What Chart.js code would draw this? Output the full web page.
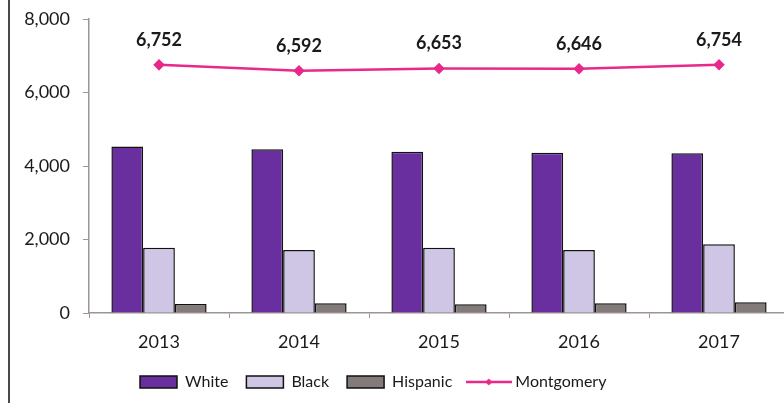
<!DOCTYPE html>
<html>
<head>
<meta charset="utf-8">
<script src="https://cdn.jsdelivr.net/npm/chart.js@4"></script>
<style>
  html, body { margin: 0; padding: 0; background: #fff; overflow: hidden; }
  #wrap { position: relative; width: 800px; height: 403px; }
  #frame { position: absolute; left: 8px; top: 0; width: 2px; height: 403px; background: #4a4a4a; }
</style>
</head>
<body>
<div id="wrap">
  <canvas id="chartRaca" width="800" height="403"></canvas>
  <div id="frame"></div>
</div>
<script>
// Categorias (anos) e valores
const years = ['2013', '2014', '2015', '2016', '2017'];
const white = [4530, 4455, 4390, 4360, 4345];
const black = [1775, 1715, 1775, 1715, 1870];
const hispanic = [245, 265, 240, 265, 290];
const montgomery = [6752, 6592, 6653, 6646, 6754];
const yTicks = [0, 2000, 4000, 6000, 8000];

const fontFamily = 'Lato, "Open Sans", sans-serif';
const textColor = '#1a1a1a';
const axisColor = '#9e9494';
const pink = '#e8288a';

// Pequeno desenho da linha com marcador para a legenda
const lineSymbol = document.createElement('canvas');
lineSymbol.width = 46;
lineSymbol.height = 12;
(function () {
    const c = lineSymbol.getContext('2d');
    c.strokeStyle = pink;
    c.lineWidth = 2.5;
    c.beginPath();
    c.moveTo(0, 6);
    c.lineTo(46, 6);
    c.stroke();
    c.fillStyle = pink;
    c.beginPath();
    c.moveTo(23, 2.5);
    c.lineTo(26.5, 6);
    c.lineTo(23, 9.5);
    c.lineTo(19.5, 6);
    c.closePath();
    c.fill();
})();

// Rótulos de valor acima da linha
const valueLabels = {
    id: 'valueLabels',
    afterDatasetsDraw(chart) {
        const ctx = chart.ctx;
        const meta = chart.getDatasetMeta(3);
        ctx.save();
        ctx.font = 'bold 18px ' + fontFamily;
        ctx.fillStyle = textColor;
        ctx.textAlign = 'center';
        ctx.textBaseline = 'middle';
        meta.data.forEach((pt, i) => {
            ctx.fillText(montgomery[i].toLocaleString('en-US'), pt.x, pt.y - 25);
        });
        ctx.restore();
    }
};

// Fixa a altura da legenda e a desloca para a posição do original
const legendShift = {
    id: 'legendShift',
    beforeLayout(chart) {
        const lg = chart.legend;
        if (lg && !lg._fixed) {
            const fitOrig = lg.fit.bind(lg);
            lg.fit = function () { fitOrig(); this.height = 44; };
            lg._fixed = true;
        }
    },
    afterLayout(chart) {
        const lg = chart.legend;
        const w = lg.right - lg.left;
        lg.left = 122;
        lg.right = 122 + w;
        lg.top -= 3;
        lg.bottom -= 3;
    }
};

new Chart(document.getElementById('chartRaca').getContext('2d'), {
    type: 'bar',
    data: {
        labels: years,
        datasets: [
            {
                label: 'White',
                data: white,
                backgroundColor: '#6a2f9e',
                borderColor: '#111111',
                borderWidth: 1.5,
                order: 2
            },
            {
                label: 'Black',
                data: black,
                backgroundColor: '#cfc6e6',
                borderColor: '#111111',
                borderWidth: 1.5,
                order: 2
            },
            {
                label: 'Hispanic',
                data: hispanic,
                backgroundColor: '#827b79',
                borderColor: '#111111',
                borderWidth: 1.5,
                order: 2
            },
            {
                type: 'line',
                label: 'Montgomery',
                data: montgomery,
                borderColor: pink,
                backgroundColor: pink,
                borderWidth: 2.5,
                pointStyle: 'rectRot',
                pointRadius: 4,
                pointBackgroundColor: pink,
                pointBorderColor: pink,
                tension: 0,
                order: 1
            }
        ]
    },
    options: {
        responsive: false,
        animation: false,
        layout: { padding: { top: 19, right: 11, bottom: 0, left: 0 } },
        datasets: {
            bar: { categoryPercentage: 0.68, barPercentage: 1.0 }
        },
        plugins: {
            tooltip: { enabled: false },
            legend: {
                position: 'bottom',
                align: 'start',
                labels: {
                    usePointStyle: true,
                    pointStyleWidth: 37,
                    boxHeight: 12,
                    padding: 18,
                    color: textColor,
                    font: { size: 16, family: fontFamily },
                    generateLabels(chart) {
                        return chart.data.datasets.map((ds, i) => ({
                            text: ds.label,
                            fillStyle: ds.backgroundColor,
                            strokeStyle: i === 3 ? pink : '#111111',
                            lineWidth: i === 3 ? 0 : 1.5,
                            pointStyle: i === 3 ? lineSymbol : 'rect',
                            fontColor: textColor,
                            datasetIndex: i,
                            hidden: false
                        }));
                    }
                }
            }
        },
        scales: {
            x: {
                afterFit(scale) { scale.height = 46; scale.paddingLeft = 0; scale.paddingRight = 0; },
                grid: {
                    drawOnChartArea: false,
                    drawTicks: true,
                    tickLength: 5,
                    color: axisColor,
                    offset: true
                },
                border: { color: axisColor, width: 1.5 },
                ticks: {
                    color: textColor,
                    padding: 13,
                    font: { size: 18, family: fontFamily }
                }
            },
            y: {
                min: 0,
                max: 8000,
                afterFit(scale) { scale.width = 89; scale.paddingTop = 0; scale.paddingBottom = 0; },
                afterBuildTicks(scale) { scale.ticks = yTicks.map(v => ({ value: v })); },
                grid: {
                    drawOnChartArea: false,
                    drawTicks: true,
                    tickLength: 6,
                    color: axisColor
                },
                border: { color: axisColor, width: 1.5 },
                ticks: {
                    color: textColor,
                    padding: 13,
                    font: { size: 18, family: fontFamily },
                    callback: v => v.toLocaleString('en-US')
                }
            }
        }
    },
    plugins: [valueLabels, legendShift]
});
</script>
</body>
</html>
